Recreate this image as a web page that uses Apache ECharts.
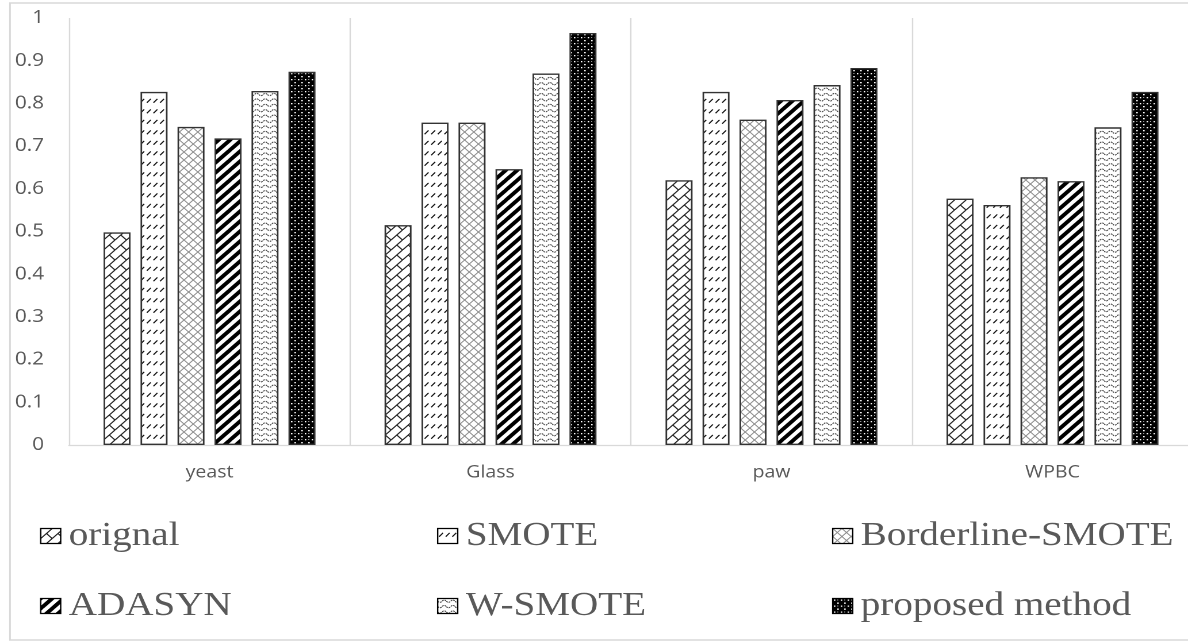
<!DOCTYPE html>
<html>
<head>
<meta charset="utf-8">
<script src="https://cdn.jsdelivr.net/npm/echarts@6/dist/echarts.min.js"></script>
<style>
html,body{margin:0;padding:0;background:#fff;overflow:hidden;width:1188px;height:643px;}
#c{position:absolute;left:0;top:0;width:1060px;height:643px;transform:scaleX(1.15005);transform-origin:0 0;}
</style>
</head>
<body>
<div id="c"></div>
<script>
// ---- data ----
const categories = ['yeast', 'Glass', 'paw', 'WPBC'];
const seriesNames = ['orignal', 'SMOTE', 'Borderline-SMOTE', 'ADASYN', 'W-SMOTE', 'proposed method'];
const orignal = [0.498, 0.515, 0.620, 0.577];
const smote = [0.827, 0.755, 0.827, 0.562];
const borderline = [0.745, 0.755, 0.762, 0.627];
const adasyn = [0.718, 0.646, 0.808, 0.618];
const wsmote = [0.829, 0.870, 0.843, 0.744];
const proposed = [0.874, 0.965, 0.883, 0.827];
const seriesValues = [orignal, smote, borderline, adasyn, wsmote, proposed];
const yTicks = { min: 0, max: 1, interval: 0.1 };

// ---- styles ----
const S = 1.15005;            // horizontal stretch of the reference picture
const X = v => v / S;          // reference px -> logical px

function mk(w, h, draw) {
  const c = document.createElement('canvas');
  c.width = Math.round(w * 4); c.height = Math.round(h * 4);
  const g = c.getContext('2d');
  g.scale(c.width / w, c.height / h);
  g.fillStyle = '#fff'; g.fillRect(0, 0, w, h);
  draw(g, w, h);
  return { image: c, repeat: 'repeat', scaleX: w / c.width, scaleY: h / c.height };
}
function line(g, a, b, c, d) { g.beginPath(); g.moveTo(a, b); g.lineTo(c, d); g.stroke(); }

const patterns = [
  // diagonal brick
  mk(10, 10, (g, w, h) => {
    g.strokeStyle = '#222'; g.lineWidth = 1.1;
    line(g, -1, h + 1, w + 1, -1);
    line(g, w / 2, h / 2, w + 0.5, h + 0.5);
    line(g, -0.5, -0.5, 0.3, 0.3);
  }),
  // dashed upward diagonal
  mk(5.75, 10.5, (g, w, h) => {
    g.strokeStyle = '#111'; g.lineWidth = 1.1;
    line(g, 1.2, 8.2, 4.6, 4.4);
  }),
  // outlined diamond (grey cross hatch)
  mk(8, 8, (g, w, h) => {
    g.strokeStyle = '#8a8a8a'; g.lineWidth = 0.9;
    line(g, -1, -1, w + 1, h + 1);
    line(g, -1, h + 1, w + 1, -1);
  }),
  // wide upward diagonal
  mk(10, 10, (g, w, h) => {
    g.strokeStyle = '#000'; g.lineWidth = 3.6;
    [-w, 0, w].forEach(k => line(g, k - 1, h + 1, k + w + 1, -1));
  }),
  // wave
  mk(7.5, 5.4, (g, w, h) => {
    g.strokeStyle = '#4a4a4a'; g.lineWidth = 1;
    g.setLineDash([1.6, 0.8]);
    g.beginPath();
    for (let i = 0; i <= 24; i++) {
      const x = i * w / 24, y = 2.7 + 1.2 * Math.sin(2 * Math.PI * x / w);
      if (i === 0) g.moveTo(x, y); else g.lineTo(x, y);
    }
    g.stroke();
  }),
  // black with white dots
  mk(6, 6, (g, w, h) => {
    g.fillStyle = '#000'; g.fillRect(0, 0, w, h);
    g.fillStyle = '#fff';
    g.fillRect(1, 1, 1.3, 1.3);
    g.fillRect(4, 4, 1.3, 1.3);
    g.fillStyle = '#999';
    g.fillRect(4, 1, 1, 1);
  })
];

const legendPos = [
  [40, 519], [437, 519], [832, 519],
  [40, 589], [437, 589], [832, 589]
];

const chart = echarts.init(document.getElementById('c'), null, { devicePixelRatio: 2 });
const textColor = '#595959';

const option = {
  backgroundColor: '#fff',
  animation: false,
  graphic: [{
    type: 'rect',
    shape: { x: X(10), y: 3, width: X(1200), height: 637 },
    style: { fill: 'none', stroke: '#d9d9d9', lineWidth: 1.5 },
    silent: true, z: -10
  }],
  grid: { left: X(69), top: 18, width: X(1124), height: 427 },
  legend: seriesNames.map((n, i) => ({
    data: [n],
    left: X(legendPos[i][0]),
    top: legendPos[i][1],
    padding: 0,
    icon: 'rect',
    itemWidth: X(20),
    itemHeight: 15,
    itemStyle: { borderColor: '#000', borderWidth: 1.2 },
    textStyle: { fontFamily: 'Liberation Serif', fontSize: 34, color: textColor, padding: [0, 0, 0, 2] },
    selectedMode: false
  })),
  xAxis: {
    type: 'category',
    data: categories,
    axisLine: { lineStyle: { color: '#d9d9d9', width: 1.2 } },
    axisTick: { show: false },
    splitLine: { show: true, lineStyle: { color: '#d9d9d9', width: 1.2 } },
    axisLabel: { color: textColor, fontFamily: 'Open Sans', fontSize: 17, margin: 19 }
  },
  yAxis: {
    type: 'value',
    min: yTicks.min, max: yTicks.max, interval: yTicks.interval,
    axisLine: { show: false },
    axisTick: { show: false },
    splitLine: { show: false },
    axisLabel: { color: textColor, fontFamily: 'Open Sans', fontSize: 18, margin: X(25) }
  },
  series: seriesNames.map((n, i) => ({
    name: n,
    type: 'bar',
    data: seriesValues[i],
    barWidth: X(27),
    barGap: '37%',
    itemStyle: { color: patterns[i], borderColor: '#333', borderWidth: 1.4 },
    emphasis: { disabled: true }
  }))
};
chart.setOption(option);
</script>
</body>
</html>
